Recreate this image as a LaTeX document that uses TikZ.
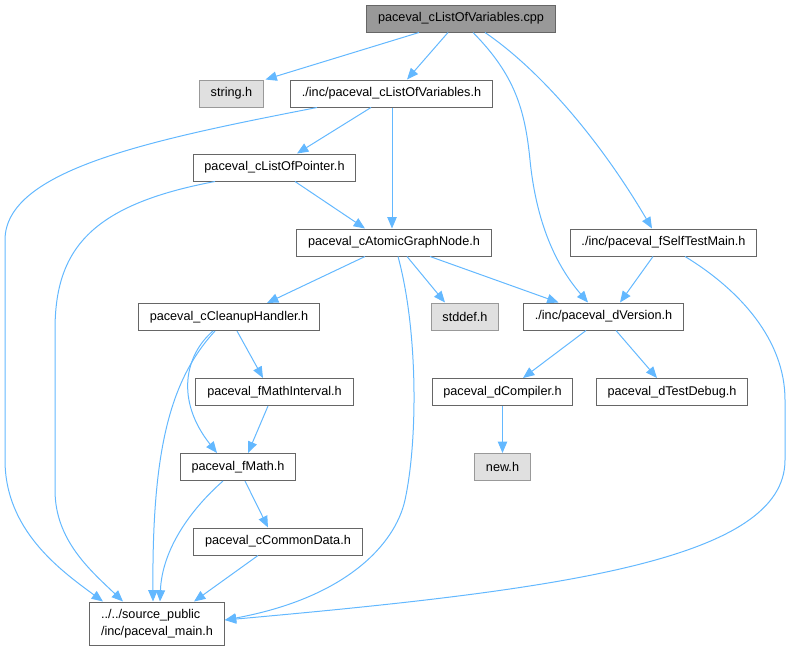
\documentclass[tikz,border=0pt]{standalone}
\usepackage{fontspec}
\setmainfont{Liberation Sans}
\usetikzlibrary{arrows.meta,calc}
\definecolor{edgeblue}{HTML}{63B8FF}
\definecolor{boxgray}{HTML}{666666}
\definecolor{sysgray}{HTML}{999999}
\definecolor{sysfill}{HTML}{E0E0E0}
\begin{document}
\begin{tikzpicture}[
    x=0.75pt, y=-0.75pt,
    header/.style={rectangle, draw=boxgray, fill=white, line width=0.75pt, minimum height=20.25pt, inner xsep=8.5pt, inner ysep=2pt, text centered, font=\fontsize{9.5}{12.5}\selectfont},
    syshdr/.style={header, draw=sysgray, fill=sysfill},
    rootfile/.style={header, draw=boxgray, fill=sysgray},
    arrow/.style={-{Triangle[length=8.5pt, width=7pt]}, draw=edgeblue, line width=0.75pt}
]
\useasboundingbox (0,0) rectangle (791,651);

% Header files
\node[rootfile] (cpp) at (461,18.5) {paceval\_cListOfVariables.cpp};
\node[syshdr] (string) at (231.5,93.5) {string.h};
\node[header] (clistvar) at (391.5,93.5) {./inc/paceval\_cListOfVariables.h};
\node[header] (clistptr) at (274.5,167.5) {paceval\_cListOfPointer.h};
\node[header] (atomic) at (394,242.5) {paceval\_cAtomicGraphNode.h};
\node[header] (selftest) at (663.5,242.5) {./inc/paceval\_fSelfTestMain.h};
\node[header] (cleanup) at (229,317) {paceval\_cCleanupHandler.h};
\node[syshdr] (stddef) at (465,316.5) {stddef.h};
\node[header] (dversion) at (603.5,316.5) {./inc/paceval\_dVersion.h};
\node[header] (fmathint) at (274.5,392) {paceval\_fMathInterval.h};
\node[header] (dcompiler) at (502.5,392) {paceval\_dCompiler.h};
\node[header] (dtestdebug) at (672,392) {paceval\_dTestDebug.h};
\node[header] (fmath) at (238,467) {paceval\_fMath.h};
\node[syshdr] (newh) at (502.5,467) {new.h};
\node[header] (commondata) at (278,541.5) {paceval\_cCommonData.h};
\node[header, minimum height=32.25pt, align=left] (mainh) at (157,623.5) {../../source\_public\\/inc/paceval\_main.h};

% Includes of the cpp file
\draw[arrow] ($(cpp.south)+(-42,0)$) -- ($(string.north)+(34,0)$);
\draw[arrow] ($(cpp.south)+(-13,0)$) -- ($(clistvar.north)+(15.5,0)$);
\draw[arrow] ($(cpp.south)+(12,0)$) .. controls (515,75) and (525,110) .. (530,160)
    .. controls (537,230) and (560,270) .. ($(dversion.north)+(-15.5,0)$);
\draw[arrow] ($(cpp.south)+(24,0)$) .. controls (540,70) and (600,140) .. ($(selftest.north)+(-11.5,0)$);

% Includes of the headers
\draw[arrow] ($(clistvar.south)+(-74.5,0)$) .. controls (150,140) and (5,170) .. (5,240)
    -- (5,460) .. controls (5,530) and (60,570) .. ($(mainh.north)+(-54,0)$);
\draw[arrow] ($(clistvar.south)+(-20.5,0)$) -- ($(clistptr.north)+(22.5,0)$);
\draw[arrow] ($(clistvar.south)+(0.5,0)$) -- ($(atomic.north)+(-2,0)$);
\draw[arrow] ($(clistptr.south)+(-59.5,0)$) .. controls (90,205) and (55,250) .. (55,330)
    -- (55,490) .. controls (55,540) and (90,570) .. ($(mainh.north)+(-34,0)$);
\draw[arrow] ($(clistptr.south)+(20.5,0)$) -- ($(atomic.north)+(-29,0)$);
\draw[arrow] ($(atomic.south)+(-29,0)$) -- ($(cleanup.north)+(38,0)$);
\draw[arrow] ($(atomic.south)+(13,0)$) -- ($(stddef.north)+(-20,0)$);
\draw[arrow] ($(atomic.south)+(36,0)$) -- ($(dversion.north)+(-45,0)$);
\draw[arrow] ($(atomic.south)+(4,0)$) .. controls (418,330) and (418,440) .. (405,500)
    .. controls (395,545) and (345,598) .. ($(mainh.east)+(0,-3.5)$);
\draw[arrow] ($(selftest.south)+(-10.5,0)$) -- ($(dversion.north)+(16.5,0)$);
\draw[arrow] ($(selftest.south)+(21.5,0)$) .. controls (740,290) and (785,340) .. (785,400)
    -- (785,460) .. controls (785,560) and (560,590) .. ($(mainh.east)+(0,-3.5)$);
\draw[arrow] ($(cleanup.south)+(8,0)$) -- ($(fmathint.north)+(-11.5,0)$);
\draw[arrow] ($(cleanup.south)+(-16,0)$) .. controls (185,355) and (175,400) .. ($(fmath.north)+(-21,0)$);
\draw[arrow] ($(cleanup.south)+(-14,0)$) .. controls (170,380) and (152,450) .. ($(mainh.north)+(-4,0)$);
\draw[arrow] ($(fmathint.south)+(-6.5,0)$) -- ($(fmath.north)+(10,0)$);
\draw[arrow] ($(fmath.south)+(-15,0)$) .. controls (190,510) and (162,550) .. ($(mainh.north)+(3,0)$);
\draw[arrow] ($(fmath.south)+(7,0)$) -- ($(commondata.north)+(-10,0)$);
\draw[arrow] ($(commondata.south)+(-20,0)$) -- ($(mainh.north)+(37,0)$);
\draw[arrow] ($(dversion.south)+(-17.5,0)$) -- ($(dcompiler.north)+(20.5,0)$);
\draw[arrow] ($(dversion.south)+(12.5,0)$) -- ($(dtestdebug.north)+(-15,0)$);
\draw[arrow] (dcompiler.south) -- (newh.north);

\end{tikzpicture}
\end{document}
